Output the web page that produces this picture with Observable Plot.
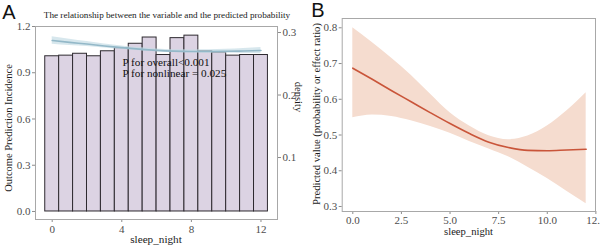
<!DOCTYPE html>
<html>
<head>
<meta charset="utf-8">
<script src="https://cdn.jsdelivr.net/npm/d3@7"></script>
<script src="https://cdn.jsdelivr.net/npm/@observablehq/plot@0.6"></script>
<style>
  html, body { margin: 0; padding: 0; background: #fff; }
  #wrap { position: relative; width: 600px; height: 250px; overflow: hidden; background: #fff; }
  .panel { position: absolute; top: 0; }
  .lbl { position: absolute; white-space: nowrap; line-height: 1; font-family: "Liberation Serif", "Times New Roman", serif; color: #1a1a1a; }
  .tag { position: absolute; font-family: "Liberation Sans", Arial, sans-serif; font-size: 20px; line-height: 1; color: #111; }
</style>
</head>
<body>
<div id="wrap">
  <div id="pa" class="panel" style="left:0px"></div>
  <div id="pb" class="panel" style="left:300px"></div>
</div>
<script>
// ---------- Panel A data ----------
const binMids = [0, 0.8, 1.6, 2.4, 3.2, 4.0, 4.8, 5.6, 6.4, 7.2, 8.0, 8.8, 9.6, 10.4, 11.2, 12.0];
const binDensity = [0.262, 0.263, 0.266, 0.262, 0.270, 0.275, 0.282, 0.292, 0.264, 0.291, 0.295, 0.270, 0.268, 0.263, 0.264, 0.264];
const binWidth = 0.8;

const sleepA = [0, 1, 2, 3, 4, 5, 6, 7, 8, 9, 10, 11, 12];
const fitA  = [1.109, 1.097, 1.086, 1.074, 1.063, 1.053, 1.045, 1.040, 1.038, 1.038, 1.039, 1.041, 1.044];
const lowA  = [1.085, 1.077, 1.070, 1.061, 1.052, 1.043, 1.036, 1.031, 1.028, 1.027, 1.026, 1.025, 1.024];
const highA = [1.133, 1.117, 1.102, 1.087, 1.074, 1.063, 1.054, 1.049, 1.048, 1.049, 1.052, 1.057, 1.064];

const leftTicksA = [0, 0.3, 0.6, 0.9, 1.2];
const densityTicks = [0.1, 0.2, 0.3];
const xTicksA = [0, 4, 8, 12];
const pTexts = ["P for overall<0.001", "P for nonlinear = 0.025"];

// ---------- Panel B data ----------
const sleepB = [0, 1, 2, 3, 4, 5, 6, 7, 8, 9, 10, 11, 12];
const fitB  = [0.687, 0.656, 0.624, 0.593, 0.562, 0.532, 0.504, 0.480, 0.465, 0.457, 0.456, 0.458, 0.460];
const lowB  = [0.548, 0.556, 0.552, 0.540, 0.524, 0.505, 0.482, 0.461, 0.439, 0.410, 0.378, 0.343, 0.308];
const highB = [0.800, 0.759, 0.715, 0.667, 0.614, 0.562, 0.525, 0.498, 0.487, 0.497, 0.525, 0.567, 0.618];
const yTicksB = [0.3, 0.4, 0.5, 0.6, 0.7, 0.8];
const xTicksB = [0, 2.5, 5, 7.5, 10, 12.5];

// secondary (density) axis mapping onto the primary scale
const secA = 4.055, secB = -0.0555;
const toLeft = d => secA * d + secB;
const fromLeft = v => (v - secB) / secA;

const bars = binMids.map((m, i) => ({x1: m - binWidth / 2, x2: m + binWidth / 2, y2: toLeft(binDensity[i])}));
const curveA = sleepA.map((x, i) => ({x, fit: fitA[i], lo: lowA[i], hi: highA[i]}));
const curveB = sleepB.map((x, i) => ({x, fit: fitB[i], lo: lowB[i], hi: highB[i]}));
const pNotes = pTexts.map((t, i) => ({t, x: 4.04, y: [0.966, 0.893][i]}));

const serif = '"Liberation Serif", "Times New Roman", serif';
const axisColor = "#8c8c8c";
const textColor = "#4d4d4d";

const plotA = Plot.plot({
  width: 300, height: 250,
  marginLeft: 35, marginRight: 23, marginTop: 26, marginBottom: 31,
  x: {domain: [-0.96, 12.95]},
  y: {domain: [-0.052, 1.2]},
  style: {fontFamily: serif, fontSize: "11px", background: "transparent", color: textColor, overflow: "visible"},
  marks: [
    Plot.rectY(bars, {x1: "x1", x2: "x2", y1: 0, y2: "y2", fill: "#dcd3e3", stroke: "#2e2a30", strokeWidth: 1}),
    Plot.areaY(curveA, {x: "x", y1: "lo", y2: "hi", fill: "#c6dde6", fillOpacity: 0.7, curve: "monotone-x"}),
    Plot.lineY(curveA, {x: "x", y: "fit", stroke: "#93b8c8", strokeWidth: 1.6, curve: "monotone-x"}),
    Plot.text(pNotes, {x: "x", y: "y", text: "t", textAnchor: "start", fill: "#111", fontSize: 11.2}),
    Plot.axisX({ticks: xTicksA, tickSize: 3, tickPadding: 3, label: null, stroke: axisColor, fill: textColor}),
    Plot.axisY({ticks: leftTicksA, tickFormat: d3.format(".1f"), tickSize: 3, tickPadding: 2, label: null, stroke: axisColor, fill: textColor}),
    Plot.axisY(densityTicks.map(toLeft), {anchor: "right", tickFormat: v => fromLeft(v).toFixed(1), tickSize: 3, tickPadding: 2, label: null, stroke: axisColor, fill: textColor}),
    Plot.frame({stroke: "#a8a8a8"})
  ]
});
document.getElementById("pa").appendChild(plotA);

const plotB = Plot.plot({
  width: 300, height: 250,
  marginLeft: 41.7, marginRight: 5, marginTop: 18, marginBottom: 39,
  x: {domain: [-0.545, 12.48]},
  y: {domain: [0.286, 0.826]},
  style: {fontFamily: serif, fontSize: "11px", background: "transparent", color: textColor, overflow: "visible"},
  marks: [
    Plot.areaY(curveB, {x: "x", y1: "lo", y2: "hi", fill: "#f5dccf", curve: "monotone-x"}),
    Plot.lineY(curveB, {x: "x", y: "fit", stroke: "#c9553a", strokeWidth: 1.6, curve: "monotone-x"}),
    Plot.axisX({ticks: xTicksB, tickFormat: d3.format(".1f"), tickSize: 3, tickPadding: 1.5, label: null, stroke: axisColor, fill: textColor}),
    Plot.axisY({ticks: yTicksB, tickFormat: d3.format(".1f"), tickSize: 3, tickPadding: 2, label: null, stroke: axisColor, fill: textColor}),
    Plot.frame({stroke: "#a8a8a8"})
  ]
});
document.getElementById("pb").appendChild(plotB);

// ---------- text overlays ----------
const wrap = document.getElementById("wrap");
function addLabel(text, x, y, size, rot, cls) {
  const d = document.createElement("div");
  d.className = cls || "lbl";
  d.textContent = text;
  d.style.left = x + "px";
  d.style.top = y + "px";
  d.style.fontSize = size + "px";
  d.style.transform = "translate(-50%, -50%)" + (rot ? " rotate(" + rot + "deg)" : "");
  wrap.appendChild(d);
}
addLabel("The relationship between the variable and the predicted probability", 167, 16, 9.2, 0);
addLabel("Outcome Prediction Incidence", 9, 128, 10.5, -90);
addLabel("density", 298, 97, 10.5, 90);
addLabel("sleep_night", 156, 240, 11.2, 0);
addLabel("Predicted value (probability or effect ratio)", 316.5, 113.5, 10.6, -90);
addLabel("sleep_night", 468.5, 231.5, 10.6, 0);
addLabel("A", 9, 12, 20, 0, "tag");
addLabel("B", 318, 10, 20, 0, "tag");
</script>
</body>
</html>
